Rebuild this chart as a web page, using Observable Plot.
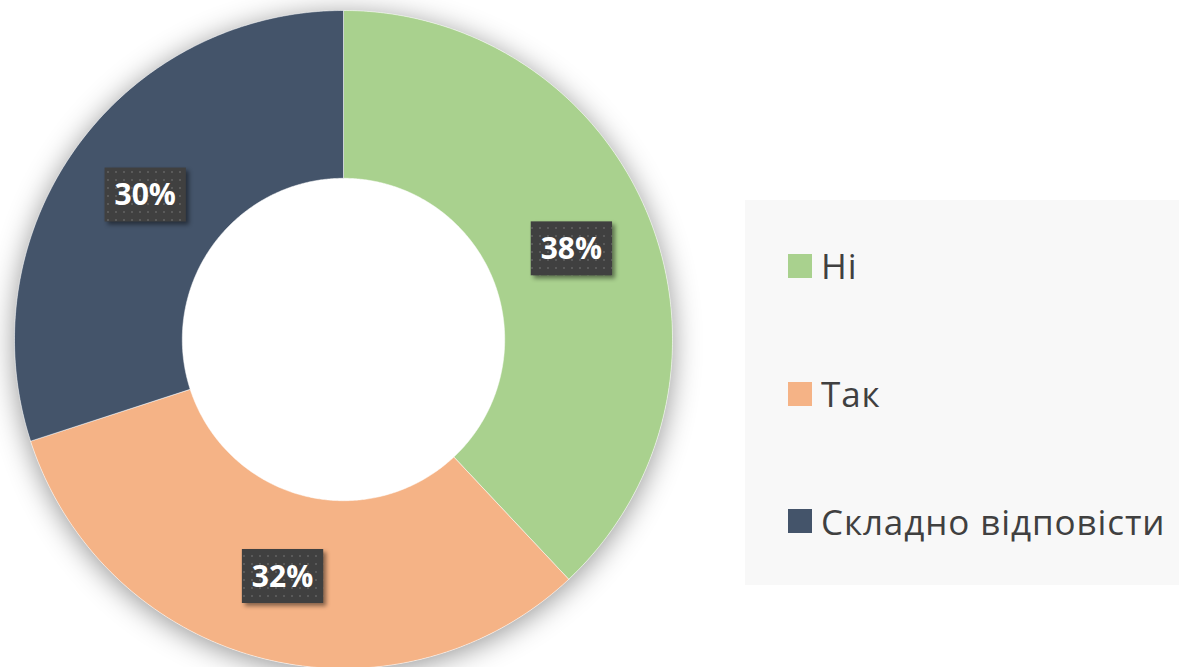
<!DOCTYPE html>
<html>
<head>
<meta charset="utf-8">
<script src="https://cdn.jsdelivr.net/npm/d3@7"></script>
<script src="https://cdn.jsdelivr.net/npm/@observablehq/plot@0.6"></script>
<style>
  html, body { margin: 0; padding: 0; background: #ffffff; }
  #wrap { position: relative; width: 1179px; height: 667px; overflow: hidden; }
  #chart { position: absolute; left: 0; top: 0; }
  #legend {
    position: absolute; left: 745px; top: 200px; width: 434px; height: 385px;
    background: #f8f8f8; font-family: "Open Sans", sans-serif; font-size: 35px; letter-spacing: 0.9px; color: #404040;
    display: flex; flex-direction: column; padding-top: 2px; box-sizing: border-box;
  }
  .item { height: 128.5px; display: flex; align-items: center; white-space: nowrap; }
  .sw { width: 24px; height: 24px; margin-left: 43px; margin-right: 9px; flex: none; }
  .lab { line-height: 1; }
</style>
</head>
<body>
<div id="wrap">
  <div id="chart"></div>
  <div id="legend"></div>
</div>
<script>
const categories = ["Ні", "Так", "Складно відповісти"];
const values = [38, 32, 30];
const labels = ["38%", "32%", "30%"];
const colors = ["#a9d18e", "#f5b386", "#44546a"];

const innerR = 0.49, outerR = 1;
const data = categories.map((c, i) => ({cat: c, value: values[i], label: labels[i]}));
const arcs = d3.pie().sort(null).value(d => d.value)(data);

const ring = [];
for (const a of arcs) {
  const n = Math.max(2, Math.ceil((a.endAngle - a.startAngle) / (Math.PI / 360)));
  const pts = [];
  for (let k = 0; k <= n; k++) {
    const t = a.startAngle + (a.endAngle - a.startAngle) * k / n;
    pts.push({cat: a.data.cat, x: outerR * Math.sin(t), y: outerR * Math.cos(t)});
  }
  for (let k = n; k >= 0; k--) {
    const t = a.startAngle + (a.endAngle - a.startAngle) * k / n;
    pts.push({cat: a.data.cat, x: innerR * Math.sin(t), y: innerR * Math.cos(t)});
  }
  pts.push(pts[0]);
  ring.push(...pts);
}
const disk = d3.range(0, 721).map(k => {
  const t = k / 720 * 2 * Math.PI;
  return {x: outerR * Math.sin(t), y: outerR * Math.cos(t)};
});
const labelPts = arcs.map(a => {
  const m = (a.startAngle + a.endAngle) / 2, r = (innerR + outerR) / 2;
  return {x: r * Math.sin(m), y: r * Math.cos(m), label: a.data.label};
});

const plot = Plot.plot({
  width: 745, height: 667, margin: 0,
  x: {domain: [-1, 1], range: [14, 672], axis: null},
  y: {domain: [-1, 1], range: [668, 10], axis: null},
  color: {domain: categories, range: colors},
  marks: [
    Plot.line(disk, {x: "x", y: "y", fill: "#ffffff", stroke: "none"}),
    Plot.line(ring, {x: "x", y: "y", z: "cat", fill: "cat", stroke: "#ffffff", strokeWidth: 1, strokeOpacity: 0.5}),
    Plot.text(labelPts, {x: "x", y: "y", text: "label", fill: "#ffffff", fontSize: 30, fontWeight: "bold", fontFamily: "Open Sans"})
  ]
});
document.getElementById("chart").appendChild(plot);

// shadow behind the ring
const lines = plot.querySelectorAll('g[aria-label="line"]');
lines[0].setAttribute("style", "filter: drop-shadow(0px 4px 14px rgba(0,0,0,0.42));");

// label boxes with dotted fill
const ns = "http://www.w3.org/2000/svg";
const defs = document.createElementNS(ns, "defs");
defs.innerHTML = '<pattern id="dots" width="8" height="8" patternUnits="userSpaceOnUse">' +
  '<rect width="8" height="8" fill="#404040"/><rect x="3" y="3" width="2" height="2" fill="#5a5a5a"/></pattern>';
plot.insertBefore(defs, plot.firstChild);
const tg = plot.querySelector('g[aria-label="text"]');
const boxes = document.createElementNS(ns, "g");
boxes.setAttribute("style", "filter: drop-shadow(3px 3px 2px rgba(0,0,0,0.45));");
tg.parentNode.insertBefore(boxes, tg);
const svgRect = plot.getBoundingClientRect();
tg.querySelectorAll("text").forEach(t => {
  const b = t.getBoundingClientRect();
  const w = b.width + 20, h = 54;
  const cx = b.left - svgRect.left + b.width / 2, cy = b.top - svgRect.top + b.height / 2 + 1;
  const r = document.createElementNS(ns, "rect");
  r.setAttribute("x", cx - w / 2); r.setAttribute("y", cy - h / 2);
  r.setAttribute("width", w); r.setAttribute("height", h);
  r.setAttribute("fill", "url(#dots)");
  boxes.appendChild(r);
});

// legend
const leg = document.getElementById("legend");
categories.forEach((c, i) => {
  const it = document.createElement("div"); it.className = "item";
  const sw = document.createElement("div"); sw.className = "sw"; sw.style.background = colors[i];
  const lb = document.createElement("span"); lb.className = "lab"; lb.textContent = c;
  it.appendChild(sw); it.appendChild(lb); leg.appendChild(it);
});
</script>
</body>
</html>
